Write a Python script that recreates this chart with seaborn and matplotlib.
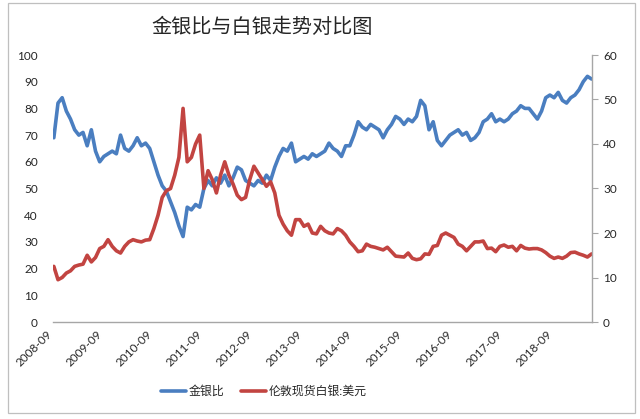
import numpy as np
import pandas as pd
import matplotlib
matplotlib.use("Agg")
import matplotlib.pyplot as plt
import seaborn as sns
from matplotlib.patches import Rectangle

# ---------------- data (monthly, 2008-09 .. 2019-06) ----------------
months = [str(p) for p in pd.period_range("2008-09", "2019-06", freq="M")]

gold_silver_ratio = [
    69, 82, 84, 79, 76, 72, 70, 71, 66, 72,
    64, 60, 62, 63, 64, 63, 70, 65, 64, 66,
    69, 66, 67, 65, 60, 55, 51, 49, 45, 41,
    36, 32, 43, 42, 44, 43, 50, 53, 51, 54,
    52, 55, 51, 54, 58, 57, 53, 52, 51, 53,
    52, 55, 53, 58, 62, 65, 64, 67, 60, 61,
    62, 61, 63, 62, 63, 64, 67, 65, 64, 62,
    66, 66, 70, 75, 73, 72, 74, 73, 72, 69,
    72, 74, 77, 76, 74, 76, 75, 77, 83, 81,
    72, 75, 68, 66, 68, 70, 71, 72, 70, 71,
    68, 69, 71, 75, 76, 78, 75, 76, 75, 76,
    78, 79, 81, 80, 80, 78, 76, 79, 84, 85,
    84, 86, 83, 82, 84, 85, 87, 90, 92, 91,
]

silver_usd = [
    12.5, 9.5, 10, 11, 11.5, 12.5, 12.8, 13, 15, 13.5,
    14.5, 16.5, 17, 18.5, 17, 16, 15.5, 17, 18, 18.5,
    18.2, 18, 18.4, 18.5, 21, 24, 28, 29.5, 30, 33,
    37, 48, 36, 37, 40, 42, 30, 34, 32, 29,
    33, 36, 33, 31, 28.5, 27.5, 28, 32, 35, 33.5,
    32, 30.5, 31.5, 29, 24, 22, 20.5, 19.5, 23, 23,
    21.5, 22, 20, 19.8, 21.5, 20.5, 20, 19.8, 21, 20.5,
    19.5, 18, 17, 15.8, 16, 17.5, 17, 16.8, 16.5, 16.2,
    16.8, 15.8, 14.8, 14.7, 14.6, 15.5, 14.3, 14, 14.2, 15.3,
    15.2, 17, 17.2, 19.5, 20, 19.5, 19, 17.5, 17, 16,
    17, 18, 18, 18.2, 16.5, 16.6, 15.8, 17, 17.3, 16.8,
    17, 16, 17.2, 16.6, 16.4, 16.5, 16.5, 16.2, 15.6, 14.8,
    14.3, 14.6, 14.3, 14.8, 15.6, 15.7, 15.3, 15, 14.6, 15.3,
]

series_names = ["金银比", "伦敦现货白银:美元"]
tick_labels = ["2008-09", "2009-09", "2010-09", "2011-09", "2012-09", "2013-09",
               "2014-09", "2015-09", "2016-09", "2017-09", "2018-09"]
left_ticks = [0, 10, 20, 30, 40, 50, 60, 70, 80, 90, 100]
right_ticks = [0, 10, 20, 30, 40, 50, 60]
title = "金银比与白银走势对比图"

# ---------------- style ----------------
sns.set_style("white")
plt.rcParams["font.family"] = ["Lato", "Noto Sans CJK SC", "DejaVu Sans"]
BLUE = "#4A7EC0"
RED = "#C24441"
GRAY = "#A6A6A6"
TXT = "#262626"

df = pd.DataFrame({
    "idx": np.arange(len(months)),
    "month": months,
    "ratio": gold_silver_ratio,
    "silver": silver_usd,
})

fig = plt.figure(figsize=(6.4, 4.19), dpi=100)
ax = fig.add_axes([53 / 640, (419 - 322) / 419, (592 - 53) / 640, (322 - 55) / 419])
sns.lineplot(data=df, x="idx", y="ratio", ax=ax, color=BLUE, lw=2.6, legend=False)
ax2 = ax.twinx()
sns.lineplot(data=df, x="idx", y="silver", ax=ax2, color=RED, lw=2.6, legend=False)

ax.set_xlim(-0.2, len(months) - 0.9)
ax.set_ylim(0, 100)
ax2.set_ylim(0, 60)
ax.set_yticks(left_ticks)
ax.set_yticklabels([str(t) for t in left_ticks])
ax2.set_yticks(right_ticks)
ax2.set_yticklabels([str(t) for t in right_ticks])
ax.set_xticks([months.index(t) for t in tick_labels])
ax.set_xticklabels(tick_labels, rotation=45, ha="right")
for a in (ax, ax2):
    a.set_xlabel("")
    a.set_ylabel("")
    a.grid(False)

ax.tick_params(axis="y", length=0, pad=11, labelsize=8.5, labelcolor=TXT)
ax.tick_params(axis="x", length=0, pad=5, labelsize=8.5, labelcolor=TXT)
ax2.tick_params(axis="y", right=True, length=4, width=0.8, color=GRAY, direction="out",
                pad=4, labelsize=8.5, labelcolor=TXT)

for s in ("left", "top", "right"):
    ax.spines[s].set_visible(False)
ax.spines["bottom"].set_color(GRAY)
ax.spines["bottom"].set_linewidth(1.0)
for s in ("left", "top", "bottom"):
    ax2.spines[s].set_visible(False)
ax2.spines["right"].set_color(GRAY)
ax2.spines["right"].set_linewidth(1.0)

fig.text(262 / 640, (419 - 27) / 419, title, ha="center", va="center",
         fontsize=14.5, color=TXT, family=["Noto Sans CJK SC", "DejaVu Sans"])

handles = [ax.lines[0], ax2.lines[0]]
fig.legend(handles, series_names, loc="center", bbox_to_anchor=(264 / 640, (419 - 391) / 419),
           ncol=2, frameon=False, fontsize=8.6, handlelength=2.1, handletextpad=0.2,
           columnspacing=1.4, labelcolor=TXT)

fig.patches.append(Rectangle((8 / 640, (419 - 413) / 419), (635 - 8) / 640, (413 - 3) / 419,
                             transform=fig.transFigure, fill=False, ec="#BFBFBF", lw=0.9))

fig.savefig("out.png", dpi=100)
